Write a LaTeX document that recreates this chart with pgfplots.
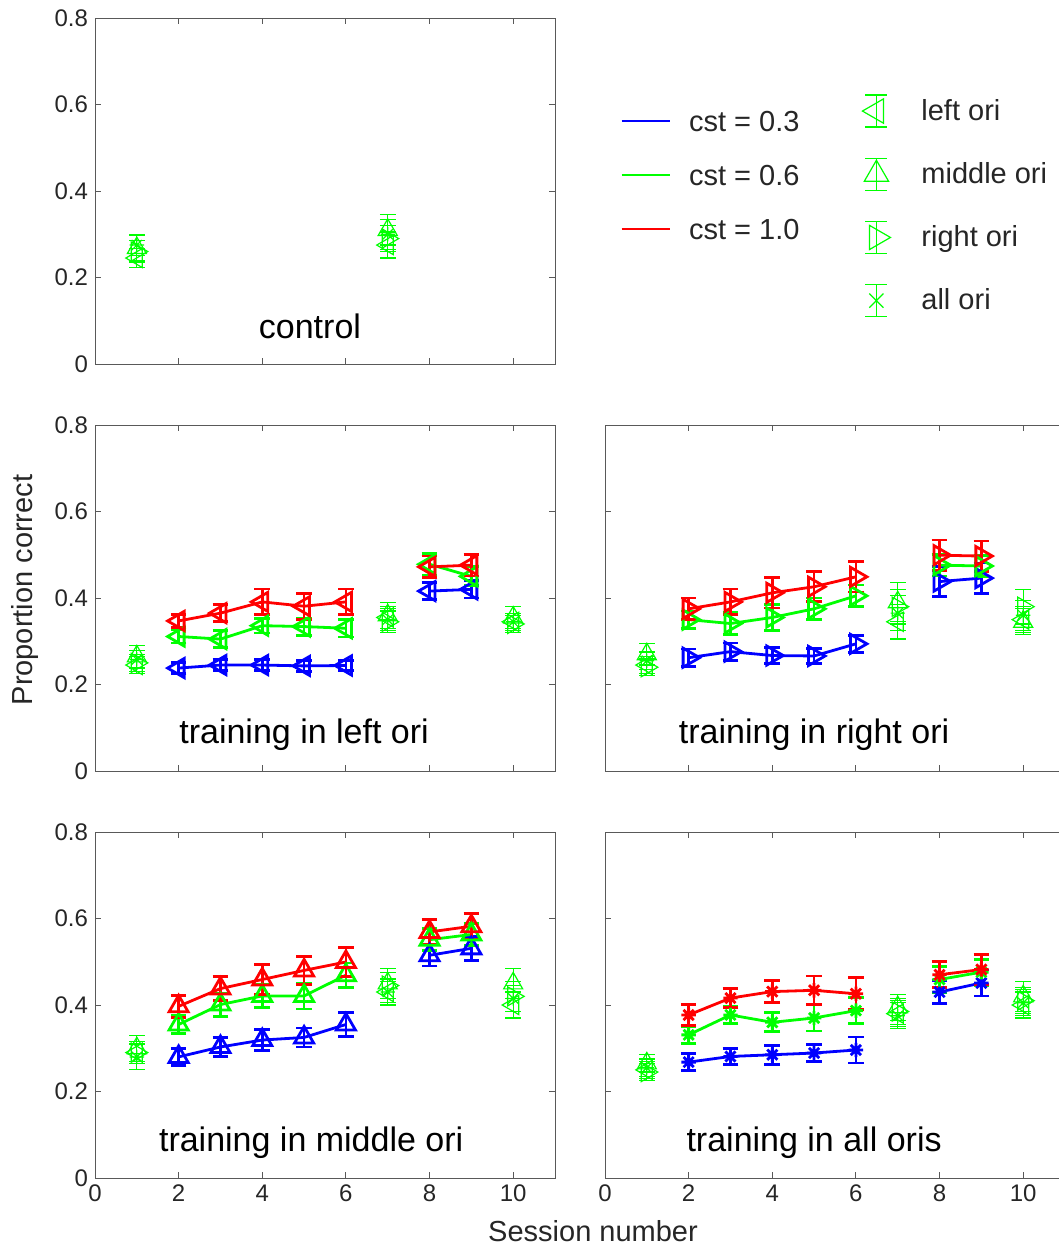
\documentclass[border=0pt]{standalone}
\usepackage{pgfplots}
\pgfplotsset{compat=1.18}
\usepackage{fontspec}
\setmainfont{Liberation Sans}

\pgfdeclareplotmark{ast8}{%
  \pgfpathmoveto{\pgfqpoint{-\pgfplotmarksize}{0pt}}\pgfpathlineto{\pgfqpoint{\pgfplotmarksize}{0pt}}%
  \pgfpathmoveto{\pgfqpoint{0pt}{-\pgfplotmarksize}}\pgfpathlineto{\pgfqpoint{0pt}{\pgfplotmarksize}}%
  \pgfpathmoveto{\pgfqpoint{-0.707\pgfplotmarksize}{-0.707\pgfplotmarksize}}\pgfpathlineto{\pgfqpoint{0.707\pgfplotmarksize}{0.707\pgfplotmarksize}}%
  \pgfpathmoveto{\pgfqpoint{-0.707\pgfplotmarksize}{0.707\pgfplotmarksize}}\pgfpathlineto{\pgfqpoint{0.707\pgfplotmarksize}{-0.707\pgfplotmarksize}}%
  \pgfusepathqstroke}

\definecolor{axgray}{gray}{0.35}
\definecolor{txt}{gray}{0.15}

\tikzset{lbl/.style={font=\fontsize{17}{20}\selectfont, text=black, anchor=base}}

\pgfplotsset{
  panel/.style={scale only axis, width=230pt, height=173pt,
    xmin=0, xmax=11, ymin=0, ymax=0.8,
    xtick={0,2,4,6,8,10}, ytick={0,0.2,0.4,0.6,0.8},
    tick align=inside, major tick length=3pt,
    axis line style={draw=axgray, line width=0.5pt},
    every tick/.style={draw=axgray, line width=0.5pt},
    tick label style={font=\fontsize{12}{14}\selectfont, text=txt},
    /pgf/number format/assume math mode=true},
  thk/.style={line width=1.4pt, mark size=5.5pt,
    error bars/y dir=both, error bars/y explicit,
    error bars/error bar style={line width=1.4pt, solid},
    error bars/error mark options={mark size=3.9pt, line width=1.4pt, rotate=90}},
  thn/.style={only marks, green, line width=0.6pt, mark size=5.5pt,
    error bars/y dir=both, error bars/y explicit,
    error bars/error bar style={line width=0.6pt, solid},
    error bars/error mark options={mark size=3.9pt, line width=0.6pt, rotate=90}},
  L/.style={mark=triangle, mark options={rotate=90, solid}},
  R/.style={mark=triangle, mark options={rotate=-90, solid}},
  M/.style={mark=triangle, mark options={solid}},
  A/.style={mark=ast8, mark size=3.6pt, mark options={solid}},
  lineleg/.style={legend image code/.code={\draw[##1] (0pt,0pt) -- (24pt,0pt);}},
  markleg/.style={legend image code/.code={
      \draw[##1, mark=none] (11pt,-8pt) -- (11pt,8pt);
      \draw[##1, mark=none] (5.5pt,-8pt) -- (16.5pt,-8pt);
      \draw[##1, mark=none] (5.5pt,8pt) -- (16.5pt,8pt);
      \draw[##1, only marks] plot coordinates {(11pt,0pt)};}},
}

\begin{document}
\begin{tikzpicture}
\useasboundingbox (0pt,0pt) rectangle (529.5pt,-624.5pt);

% ---------------- control
\begin{axis}[panel, at={(47.5pt,-9pt)}, anchor=north west, xticklabels={}, yticklabels={0,0.2,0.4,0.6,0.8}]
\addplot[thn,L] table[row sep=\\,y error index=2]{1 0.245 0.022\\ 7 0.275 0.03\\};
\addplot[thn,M] table[row sep=\\,y error index=2]{1 0.268 0.03\\ 7 0.31 0.035\\};
\addplot[thn,R] table[row sep=\\,y error index=2]{1 0.26 0.025\\ 7 0.29 0.03\\};
\addplot[thn,A] table[row sep=\\,y error index=2]{1 0.275 0.025\\ 7 0.30 0.035\\};
\node[lbl] at (axis cs:5.14,0.058) {control};
\end{axis}

% ---------------- training in left ori
\begin{axis}[panel, at={(47.5pt,-212.5pt)}, anchor=north west, xticklabels={}, yticklabels={0,0.2,0.4,0.6,0.8}]
\addplot[thn,L] table[row sep=\\,y error index=2]{1 0.245 0.02\\ 7 0.355 0.025\\ 10 0.345 0.02\\};
\addplot[thn,M] table[row sep=\\,y error index=2]{1 0.265 0.025\\ 7 0.36 0.03\\ 10 0.355 0.025\\};
\addplot[thn,R] table[row sep=\\,y error index=2]{1 0.25 0.02\\ 7 0.345 0.025\\ 10 0.34 0.02\\};
\addplot[thn,A] table[row sep=\\,y error index=2]{1 0.258 0.02\\ 7 0.35 0.025\\ 10 0.345 0.02\\};
\addplot[thk,L,blue] table[row sep=\\,y error index=2]{2 0.238 0.012\\ 3 0.245 0.012\\ 4 0.245 0.013\\ 5 0.243 0.012\\ 6 0.244 0.012\\};
\addplot[thk,L,blue] table[row sep=\\,y error index=2]{8 0.416 0.02\\ 9 0.42 0.02\\};
\addplot[thk,L,green] table[row sep=\\,y error index=2]{2 0.311 0.015\\ 3 0.305 0.02\\ 4 0.336 0.017\\ 5 0.334 0.02\\ 6 0.330 0.02\\};
\addplot[thk,L,green] table[row sep=\\,y error index=2]{8 0.478 0.025\\ 9 0.45 0.022\\};
\addplot[thk,L,red] table[row sep=\\,y error index=2]{2 0.347 0.015\\ 3 0.365 0.02\\ 4 0.391 0.03\\ 5 0.381 0.03\\ 6 0.391 0.03\\};
\addplot[thk,L,red] table[row sep=\\,y error index=2]{8 0.472 0.025\\ 9 0.476 0.025\\};
\node[lbl] at (axis cs:5.0,0.064) {training in left ori};
\end{axis}

% ---------------- training in right ori
\begin{axis}[panel, at={(302.5pt,-212.5pt)}, anchor=north west, xticklabels={}, yticklabels={}]
\addplot[thn,L] table[row sep=\\,y error index=2]{1 0.245 0.02\\ 7 0.345 0.04\\ 10 0.35 0.03\\};
\addplot[thn,M] table[row sep=\\,y error index=2]{1 0.27 0.025\\ 7 0.39 0.045\\ 10 0.345 0.03\\};
\addplot[thn,R] table[row sep=\\,y error index=2]{1 0.24 0.02\\ 7 0.38 0.04\\ 10 0.38 0.04\\};
\addplot[thn,A] table[row sep=\\,y error index=2]{1 0.255 0.02\\ 7 0.365 0.04\\ 10 0.36 0.035\\};
\addplot[thk,R,blue] table[row sep=\\,y error index=2]{2 0.262 0.02\\ 3 0.276 0.02\\ 4 0.267 0.018\\ 5 0.266 0.018\\ 6 0.294 0.02\\};
\addplot[thk,R,blue] table[row sep=\\,y error index=2]{8 0.438 0.035\\ 9 0.446 0.035\\};
\addplot[thk,R,green] table[row sep=\\,y error index=2]{2 0.35 0.02\\ 3 0.341 0.025\\ 4 0.355 0.03\\ 5 0.375 0.025\\ 6 0.405 0.025\\};
\addplot[thk,R,green] table[row sep=\\,y error index=2]{8 0.476 0.025\\ 9 0.474 0.025\\};
\addplot[thk,R,red] table[row sep=\\,y error index=2]{2 0.375 0.025\\ 3 0.391 0.03\\ 4 0.412 0.035\\ 5 0.426 0.035\\ 6 0.449 0.035\\};
\addplot[thk,R,red] table[row sep=\\,y error index=2]{8 0.499 0.035\\ 9 0.497 0.035\\};
\node[lbl] at (axis cs:5.0,0.064) {training in right ori};
\end{axis}

% ---------------- training in middle ori
\begin{axis}[panel, at={(47.5pt,-416pt)}, anchor=north west, xticklabels={0,2,4,6,8,10}, yticklabels={0,0.2,0.4,0.6,0.8}]
\addplot[thn,L] table[row sep=\\,y error index=2]{1 0.29 0.025\\ 7 0.43 0.025\\ 10 0.40 0.03\\};
\addplot[thn,M] table[row sep=\\,y error index=2]{1 0.30 0.03\\ 7 0.45 0.035\\ 10 0.45 0.035\\};
\addplot[thn,R] table[row sep=\\,y error index=2]{1 0.29 0.025\\ 7 0.445 0.03\\ 10 0.42 0.035\\};
\addplot[thn,A] table[row sep=\\,y error index=2]{1 0.28 0.03\\ 7 0.43 0.03\\ 10 0.415 0.03\\};
\addplot[thk,M,blue] table[row sep=\\,y error index=2]{2 0.28 0.02\\ 3 0.303 0.022\\ 4 0.319 0.025\\ 5 0.325 0.022\\ 6 0.355 0.028\\};
\addplot[thk,M,blue] table[row sep=\\,y error index=2]{8 0.515 0.025\\ 9 0.531 0.028\\};
\addplot[thk,M,green] table[row sep=\\,y error index=2]{2 0.355 0.02\\ 3 0.401 0.027\\ 4 0.421 0.027\\ 5 0.421 0.03\\ 6 0.469 0.028\\};
\addplot[thk,M,green] table[row sep=\\,y error index=2]{8 0.551 0.025\\ 9 0.563 0.025\\};
\addplot[thk,M,red] table[row sep=\\,y error index=2]{2 0.397 0.025\\ 3 0.438 0.027\\ 4 0.459 0.035\\ 5 0.48 0.033\\ 6 0.4995 0.033\\};
\addplot[thk,M,red] table[row sep=\\,y error index=2]{8 0.569 0.028\\ 9 0.582 0.03\\};
\node[lbl] at (axis cs:5.17,0.062) {training in middle ori};
\end{axis}

% ---------------- training in all oris
\begin{axis}[panel, at={(302.5pt,-416pt)}, anchor=north west, xticklabels={0,2,4,6,8,10}, yticklabels={}]
\addplot[thn,L] table[row sep=\\,y error index=2]{1 0.25 0.02\\ 7 0.38 0.03\\ 10 0.40 0.03\\};
\addplot[thn,M] table[row sep=\\,y error index=2]{1 0.265 0.02\\ 7 0.395 0.03\\ 10 0.42 0.035\\};
\addplot[thn,R] table[row sep=\\,y error index=2]{1 0.245 0.02\\ 7 0.385 0.03\\ 10 0.41 0.03\\};
\addplot[thn,A] table[row sep=\\,y error index=2]{1 0.255 0.02\\ 7 0.375 0.03\\ 10 0.405 0.03\\};
\addplot[thk,A,blue] table[row sep=\\,y error index=2]{2 0.268 0.02\\ 3 0.281 0.018\\ 4 0.285 0.022\\ 5 0.289 0.02\\ 6 0.296 0.03\\};
\addplot[thk,A,blue] table[row sep=\\,y error index=2]{8 0.43 0.027\\ 9 0.451 0.03\\};
\addplot[thk,A,green] table[row sep=\\,y error index=2]{2 0.331 0.02\\ 3 0.377 0.02\\ 4 0.36 0.022\\ 5 0.37 0.03\\ 6 0.387 0.03\\};
\addplot[thk,A,green] table[row sep=\\,y error index=2]{8 0.459 0.03\\ 9 0.476 0.03\\};
\addplot[thk,A,red] table[row sep=\\,y error index=2]{2 0.377 0.025\\ 3 0.416 0.022\\ 4 0.431 0.025\\ 5 0.434 0.033\\ 6 0.426 0.037\\};
\addplot[thk,A,red] table[row sep=\\,y error index=2]{8 0.47 0.03\\ 9 0.482 0.035\\};
\node[lbl] at (axis cs:5.0,0.062) {training in all oris};
\end{axis}

% ---------------- legends
\begin{axis}[hide axis, scale only axis, width=529.5pt, height=624.5pt, at={(0pt,0pt)}, anchor=north west,
  xmin=0, xmax=1, ymin=0, ymax=1,
  legend style={at={(0.5855,0.912)}, anchor=north west, draw=none, fill=none, inner sep=0pt,
    font=\fontsize{14.5}{17}\selectfont, text=txt,
    nodes={inner sep=0pt, text height=10.5pt, text depth=0pt}, row sep=16.5pt, column sep=9pt},
  legend cell align=left]
\addlegendimage{lineleg, blue, line width=1.3pt}
\addlegendentry{cst = 0.3}
\addlegendimage{lineleg, green, line width=1.3pt}
\addlegendentry{cst = 0.6}
\addlegendimage{lineleg, red, line width=1.3pt}
\addlegendentry{cst = 1.0}
\end{axis}

\begin{axis}[hide axis, scale only axis, width=529.5pt, height=624.5pt, at={(0pt,0pt)}, anchor=north west,
  xmin=0, xmax=1, ymin=0, ymax=1,
  legend style={at={(0.814,0.9247)}, anchor=north west, draw=none, fill=none, inner sep=0pt,
    font=\fontsize{14.5}{17}\selectfont, text=txt,
    nodes={inner sep=0pt}, row sep=15pt, column sep=15.5pt},
  legend cell align=left]
\addlegendimage{markleg, green, line width=0.6pt, mark=triangle, mark size=7pt, mark options={rotate=90}}
\addlegendentry{left ori}
\addlegendimage{markleg, green, line width=0.6pt, mark=triangle, mark size=7pt}
\addlegendentry{middle ori}
\addlegendimage{markleg, green, line width=0.6pt, mark=triangle, mark size=7pt, mark options={rotate=-90}}
\addlegendentry{right ori}
\addlegendimage{markleg, green, line width=0.6pt, mark=x, mark size=5pt}
\addlegendentry{all ori}
\end{axis}

% ---------------- axis titles
\node[rotate=90, font=\fontsize{14.5}{17}\selectfont, text=txt] at (12.5pt,-295pt) {Proportion correct};
\node[font=\fontsize{14.5}{17}\selectfont, text=txt, anchor=base] at (296.5pt,-620.5pt) {Session number};
\end{tikzpicture}
\end{document}
